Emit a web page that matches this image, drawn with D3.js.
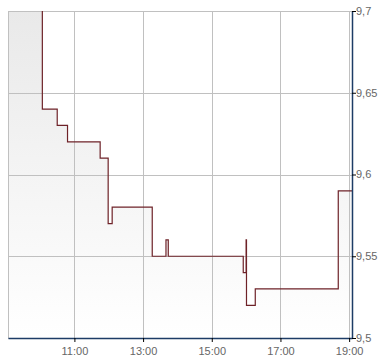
<!DOCTYPE html>
<html><head><meta charset="utf-8">
<script src="https://cdn.jsdelivr.net/npm/d3@7"></script>
<style>html,body{margin:0;padding:0;background:#fff;}svg{display:block;font-family:"Liberation Sans",Arial,sans-serif;}</style>
</head><body>
<div id="chart"></div>
<script>
const times = ["09:04","10:04","10:30","10:48","11:45","11:59","12:06","13:16","13:40","13:44","15:55","16:00:00","16:00:40","16:16","18:41","19:05"];
const prices = [9.72,9.64,9.63,9.62,9.61,9.57,9.58,9.55,9.56,9.55,9.54,9.56,9.52,9.53,9.59,9.59];
const xTickLabels = ["11:00","13:00","15:00","17:00","19:00"];
const yTickValues = [9.5,9.55,9.6,9.65,9.7];
const domainStart = "09:04", domainEnd = "19:05";

const W = 390, H = 364;
const m = {left: 8, top: 11, right: 38, bottom: 26};
const parse = s => { const p = s.split(":").map(Number); return new Date(2020,0,1,p[0],p[1],p[2]||0); };
const data = times.map((t,i) => ({t: parse(t), v: prices[i]}));

const x = d3.scaleTime().domain([parse(domainStart), parse(domainEnd)]).range([m.left, W - m.right]);
const y = d3.scaleLinear().domain([9.5, 9.7]).range([H - m.bottom, m.top]);

const svg = d3.select("#chart").append("svg").attr("width", W).attr("height", H);
const defs = svg.append("defs");
const grad = defs.append("linearGradient").attr("id","g").attr("gradientUnits","userSpaceOnUse")
  .attr("x1",0).attr("x2",0).attr("y1",m.top).attr("y2",H - m.bottom);
grad.append("stop").attr("offset","0").attr("stop-color","#e9e9e9");
grad.append("stop").attr("offset","1").attr("stop-color","#ffffff");
defs.append("clipPath").attr("id","clip").append("rect")
  .attr("x", m.left).attr("y", m.top).attr("width", W - m.right - m.left).attr("height", H - m.bottom - m.top);

const xTicks = xTickLabels.map(parse);

// area
const area = d3.area().curve(d3.curveStepAfter).x(d => x(d.t)).y0(y(9.5)).y1(d => y(d.v));
svg.append("path").datum(data).attr("clip-path","url(#clip)").attr("fill","url(#g)").attr("d", area);

// grid
const grid = svg.append("g").attr("stroke","#c0c0c0").attr("stroke-width",1).attr("shape-rendering","crispEdges");
yTickValues.forEach(v => grid.append("line").attr("x1", m.left).attr("x2", W - m.right).attr("y1", Math.round(y(v))+0.5).attr("y2", Math.round(y(v))+0.5));
xTicks.forEach(t => grid.append("line").attr("y1", m.top).attr("y2", H - m.bottom).attr("x1", Math.round(x(t))+0.5).attr("x2", Math.round(x(t))+0.5));
grid.append("line").attr("x1", m.left+0.5).attr("x2", m.left+0.5).attr("y1", m.top).attr("y2", H - m.bottom);

// line
const line = d3.line().curve(d3.curveStepAfter).x(d => x(d.t)).y(d => y(d.v));
svg.append("path").datum(data).attr("clip-path","url(#clip)").attr("fill","none")
  .attr("stroke","#6e2228").attr("stroke-width",1.2).attr("d", line);

// axes
const fmt = d3.timeFormat("%H:%M");
const xAxis = svg.append("g").attr("transform", `translate(0,${H - m.bottom})`)
  .call(d3.axisBottom(x).tickValues(xTicks).tickFormat(fmt).tickSize(4).tickSizeOuter(0));
xAxis.select(".domain").attr("stroke","#1d3c66").attr("stroke-width",1.5);
xAxis.selectAll(".tick line").attr("stroke","#000");
xAxis.selectAll("text").attr("fill","#666").attr("font-size","11px").attr("dy","0.95em").attr("y",7);

const yAxis = svg.append("g").attr("transform", `translate(${W - m.right},0)`)
  .call(d3.axisRight(y).tickValues(yTickValues).tickFormat(d => String(d).replace(".",",")).tickSize(4).tickSizeOuter(0));
yAxis.select(".domain").attr("stroke","#1d3c66").attr("stroke-width",1.5);
yAxis.selectAll(".tick line").attr("stroke","#000");
yAxis.selectAll("text").attr("fill","#666").attr("font-size","11px").attr("x",4).attr("dy","0.3em");
svg.selectAll(".domain").attr("fill","none");
</script>
</body></html>
